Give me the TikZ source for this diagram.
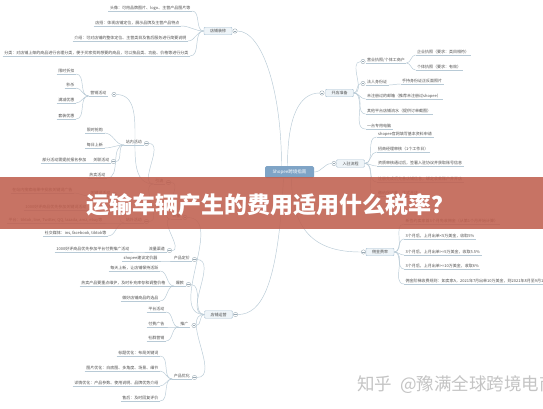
\documentclass[tikz,border=0pt]{standalone}
\usepackage{fontspec}
\setmainfont{Noto Sans CJK SC}
\usepackage{tikz}
\definecolor{txtC}{HTML}{505050}
\definecolor{lineC}{HTML}{B8CAD6}
\definecolor{boxC}{HTML}{A7BFD1}
\definecolor{boxF}{HTML}{EEF4F8}
\definecolor{hubC}{HTML}{7FA4C6}
\definecolor{mkC}{HTML}{9AAAB5}
\definecolor{bannerC}{RGB}{192,96,79}
\definecolor{wmC}{HTML}{C4C4C4}
\newcommand{\smallcn}{\fontsize{4}{4.8}\selectfont}

\begin{document}
\begin{tikzpicture}[
        x=1pt, y=-1pt,
        every node/.style={font=\smallcn, text=txtC},
        lnk/.style={draw=lineC, line width=0.45pt},
        tol/.style={out=180, in=0},
        tor/.style={out=0, in=180},
        leaf/.style={inner xsep=1.5pt, inner ysep=0.8pt, text height=3.5pt, text depth=0.5pt,
            append after command={(\tikzlastnode.south west) edge[lnk] (\tikzlastnode.south east)}},
        leafL/.style={leaf, anchor=south east},
        leafR/.style={leaf, anchor=south west},
        topic/.style={draw=boxC, fill=boxF, rounded corners=1pt, minimum width=28pt, minimum height=7.5pt,
            inner sep=0.5pt, text height=3.5pt, text depth=0.5pt, line width=0.4pt},
        hub/.style={fill=hubC, rounded corners=1.5pt, minimum width=49pt, minimum height=12pt,
            text=white, font=\fontsize{4.5}{5}\selectfont},
        mk/.style={circle, draw=mkC, fill=white, inner sep=0pt, minimum size=4.4pt, line width=0.35pt,
            path picture={\draw[mkC, line width=0.35pt] ([xshift=-1.3pt]path picture bounding box.center) -- ([xshift=1.3pt]path picture bounding box.center);}}
    ]
    \useasboundingbox[fill=white] (0,0) rectangle (543,408);

    % Centre and main topics
    \node[hub] (ctr) at (289.5,172) {Shopee跨境指南};
    \node[topic] (zx) at (218,31) {店铺装修};
    \node[mk] (zxm) at (235,31) {};
    \node[topic] (kd) at (339.5,93) {开店准备};
    \node[mk] (kdm) at (322,93) {};
    \node[topic] (rz) at (350.5,163.5) {入驻流程};
    \node[mk] (rzm) at (334,163.5) {};
    \node[topic] (yj) at (380,252) {佣金费率};
    \node[mk] (yjm) at (363.5,252) {};
    \node[topic] (yy) at (218.5,314.5) {店铺运营};
    \node[mk] (yym) at (235.5,314.5) {};

    \draw[lnk] ([xshift=-8pt]ctr.north) .. controls (281.5,90) and (262,31) .. (zxm);
    \draw[lnk] ([xshift=-2pt]ctr.north) .. controls (287.5,115) and (300,93) .. (kdm);
    \draw[lnk] (ctr.east) to[tor] (rzm);
    \draw[lnk] ([xshift=2pt]ctr.south) .. controls (291.5,240) and (325,252) .. (yjm);
    \draw[lnk] ([xshift=-6pt]ctr.south) .. controls (278,285) and (262,314.5) .. (yym);

    % 店铺装修
    \node[leafL] (zx1) at (192,11) {头像：可用品牌图片、logo、主营产品图片等};
    \node[leafL] (zx2) at (181,26) {店招：体现店铺定位，展示品牌及主营产品特点};
    \node[leafL] (zx3) at (188,41) {介绍：可对店铺的整体定位、主营类目及售后服务进行简要说明};
    \node[leafL] (zx4) at (190,56) {分类：对店铺上架的商品进行合理分类，便于买家找到想要的商品，可以按品类、功能、价格等进行分类};
    \draw[lnk] (zx.west) to[tol] (zx1.south east);
    \draw[lnk] (zx.west) to[tol] (zx2.south east);
    \draw[lnk] (zx.west) to[tol] (zx3.south east);
    \draw[lnk] (zx.west) to[tol] (zx4.south east);

    % 店铺运营: 流量
    \node[leafL] (ll) at (182,219) {流量};
    \node[mk] (llm) at (185,217.5) {};
    \node[leafL] (yl) at (165,184) {引流};
    \node[mk] (ylm) at (168.5,182.5) {};
    \node[leafL] (ql) at (166.5,252) {流量渠道};
    \node[mk] (qlm) at (169.5,250.5) {};
    \node[leafL] (ql1) at (131,252) {1000好评商品优先参加平台付费推广活动};
    \draw[lnk] (ll.south west) to[tol] (ylm);
    \draw[lnk] (ll.south west) to[tol] (qlm);
    \draw[lnk] (ql.south west) to[tol] (ql1.south east);

    % 引流
    \node[leafL] (yx) at (108,96) {营销活动};
    \node[mk] (yxm) at (114,94.5) {};
    \node[leafL] (zn) at (143.5,145) {站内活动};
    \node[mk] (znm) at (146.5,143.5) {};
    \node[leafL] (zw) at (143.5,223) {站外活动};
    \node[mk] (zwm) at (146.5,221.5) {};
    \draw[lnk] (yl.south west) to[tol] (yxm);
    \draw[lnk] (yl.south west) to[tol] (znm);
    \draw[lnk] (yl.south west) to[tol] (zwm);

    \node[leafL] (yx1) at (76,74) {限时折扣};
    \node[leafL] (yx2) at (76,88) {秒杀};
    \node[leafL] (yx3) at (76,103) {满减优惠};
    \node[leafL] (yx4) at (76,119) {套装优惠};
    \draw[lnk] (yx.south west) to[tol] (yx1.south east);
    \draw[lnk] (yx.south west) to[tol] (yx2.south east);
    \draw[lnk] (yx.south west) to[tol] (yx3.south east);
    \draw[lnk] (yx.south west) to[tol] (yx4.south east);

    \node[leafL] (zn1) at (104.5,133) {限时抢购};
    \node[leafL] (zn2) at (104.5,148) {每日上新};
    \node[leafL] (zn3) at (111,163) {关联活动};
    \node[mk] (zn3m) at (113.5,161.5) {};
    \node[leafL] (zn31) at (88,163) {部分活动需提前报名参加};
    \node[leafL] (zn4) at (107,178) {热卖活动};
    \draw[lnk] (zn.south west) to[tol] (zn1.south east);
    \draw[lnk] (zn.south west) to[tol] (zn2.south east);
    \draw[lnk] (zn.south west) to[tol] (zn3m);
    \draw[lnk] (zn.south west) to[tol] (zn4.south east);
    \draw[lnk] (zn3.south west) to[tol] (zn31.south east);

    \node[leafL] (zw1) at (112,196) {关键词活动};
    \node[mk] (zw1m) at (114.5,194.5) {};
    \node[leafL] (zw11) at (74,193) {在站内搜索结果中投放关键词广告};
    \node[leafL] (zw12) at (88,210) {1000好评商品优先参加关键词活动};
    \node[leafL] (zw2) at (104,223) {平台：tiktok, line, Twitter, QQ, lazada, amz, ebay等};
    \node[leafL] (zw3) at (108,236) {社交媒体：ins, facebook, tiktok等};
    \draw[lnk] (zw.south west) to[tol] (zw1m);
    \draw[lnk] (zw.south west) to[tol] (zw2.south east);
    \draw[lnk] (zw.south west) to[tol] (zw3.south east);
    \draw[lnk] (zw1.south west) to[tol] (zw11.south east);
    \draw[lnk] (zw1.south west) to[tol] (zw12.south east);

    % 店铺运营: 定价, 爆款, 推广, 优化
    \node[leafL] (jd) at (191.5,261) {产品定价};
    \node[mk] (jdm) at (194.5,259.5) {};
    \node[leafL] (jd1) at (159,261) {shopee建议定价器};
    \node[leafL] (bk) at (185.5,286) {爆款};
    \node[mk] (bkm) at (188.5,284.5) {};
    \node[leafL] (bk1) at (160,271) {每天上新，让店铺保持活跃};
    \node[leafL] (bk2) at (167,286) {热卖产品要重点维护，及时补充库存和调整价格};
    \node[leafL] (bk3) at (160,301) {做好店铺商品的选品};
    \node[leafL] (tg) at (190,327) {推广};
    \node[mk] (tgm) at (194,325.5) {};
    \node[leafL] (tg1) at (166,312) {平台活动};
    \node[leafL] (tg2) at (166,327) {付费广告};
    \node[leafL] (tg3) at (166,341) {社群营销};
    \node[leafL] (yh) at (191.5,379) {产品优化};
    \node[mk] (yhm) at (194.5,377.5) {};
    \node[leafL] (yh1) at (160,356) {标题优化：布局关键词};
    \node[leafL] (yh2) at (160,371) {图片优化：白底图、多角度、场景、细节};
    \node[leafL] (yh3) at (160,386) {详情优化：产品参数、使用说明、品牌优势介绍};
    \node[leafL] (yh4) at (160,401) {售后：及时回复评价};
    \draw[lnk] (yy.west) to[tol] (llm);
    \draw[lnk] (yy.west) to[tol] (jdm);
    \draw[lnk] (yy.west) to[tol] (bkm);
    \draw[lnk] (yy.west) to[tol] (tgm);
    \draw[lnk] (yy.west) to[tol] (yhm);
    \draw[lnk] (jd.south west) to[tol] (jd1.south east);
    \draw[lnk] (bk.south west) to[tol] (bk1.south east);
    \draw[lnk] (bk.south west) to[tol] (bk2.south east);
    \draw[lnk] (bk.south west) to[tol] (bk3.south east);
    \draw[lnk] (tg.south west) to[tol] (tg1.south east);
    \draw[lnk] (tg.south west) to[tol] (tg2.south east);
    \draw[lnk] (tg.south west) to[tol] (tg3.south east);
    \draw[lnk] (yh.south west) to[tol] (yh1.south east);
    \draw[lnk] (yh.south west) to[tol] (yh2.south east);
    \draw[lnk] (yh.south west) to[tol] (yh3.south east);
    \draw[lnk] (yh.south west) to[tol] (yh4.south east);

    % 开店准备
    \node[mk] (kd1m) at (363,61.5) {};
    \node[leafR] (kd1) at (365.5,63) {营业执照/个体工商户};
    \node[leafR] (kd11) at (415.5,55) {企业执照（要求：类目相符）};
    \node[leafR] (kd12) at (415.5,70) {个体执照（要求：有效）};
    \node[mk] (kd2m) at (363,83.5) {};
    \node[leafR] (kd2) at (365.5,85) {法人身份证};
    \node[leafR] (kd21) at (400.5,84) {手持身份证正反面照片};
    \node[leafR] (kd3) at (365.5,99) {未注册过的邮箱（推荐未注册过shopee）};
    \node[leafR] (kd4) at (365.5,114) {其他平台店铺流水（提供订单截图）};
    \node[leafR] (kd5) at (365.5,129) {一台专用电脑};
    \draw[lnk] (kd.east) to[tor] (kd1m);
    \draw[lnk] (kd.east) to[tor] (kd2m);
    \draw[lnk] (kd.east) to[tor] (kd3.south west);
    \draw[lnk] (kd.east) to[tor] (kd4.south west);
    \draw[lnk] (kd.east) to[tor] (kd5.south west);
    \draw[lnk] (kd1.south east) to[tor] (kd11.south west);
    \draw[lnk] (kd1.south east) to[tor] (kd12.south west);
    \draw[lnk] (kd2.south east) to[tor] (kd21.south west);

    % 入驻流程
    \node[leafR] (rz1) at (376.5,137) {shopee官网填写基本资料申请};
    \node[leafR] (rz2) at (376.5,152) {招商经理审核（1个工作日）};
    \node[leafR] (rz3) at (376.5,166) {资质审核通过后，签署入驻协议并获取账号信息};
    \node[leafR] (rz4) at (376.5,182) {注册完成后完善店铺信息，绑定收款账户并开店};
    \node[leafR] (rz5) at (376.5,196) {缴纳保证金，正式开店};
    \draw[lnk] (rz.east) to[tor] (rz1.south west);
    \draw[lnk] (rz.east) to[tor] (rz2.south west);
    \draw[lnk] (rz.east) to[tor] (rz3.south west);
    \draw[lnk] (rz.east) to[tor] (rz4.south west);
    \draw[lnk] (rz.east) to[tor] (rz5.south west);

    % 佣金费率
    \node[leafR] (yj1) at (404,224) {新签约卖家首3个月免收佣金（从第1个月开始计算）};
    \node[leafR] (yj2) at (404,239) {3个月后，上月出单<5万美金，收取5\%};
    \node[leafR] (yj3) at (404,255) {3个月后，上月出单>=5万美金，收取5.5\%};
    \node[leafR] (yj4) at (404,269) {3个月后，上月出单>=10万美金，收取6\%};
    \node[leafR] (yj5) at (404,284) {佣金阶梯收费规则：如卖家A，2021年7月出单10万美金，则2021年8月至9月10日的佣金按6\%收取};
    \draw[lnk] (yj.east) to[tor] (yj1.south west);
    \draw[lnk] (yj.east) to[tor] (yj2.south west);
    \draw[lnk] (yj.east) to[tor] (yj3.south west);
    \draw[lnk] (yj.east) to[tor] (yj4.south west);
    \draw[lnk] (yj.east) to[tor] (yj5.south west);

    % Banner and watermark
    \fill[bannerC, opacity=0.88] (0,177) rectangle (543,229);
    \node (title) [anchor=base, text=white, font=\fontsize{23}{23}\selectfont\bfseries] at (270.5,213) {运输车辆产生的费用适用什么税率？};
    \node (wm) [anchor=base west, inner sep=0pt, text=wmC, font=\fontsize{17.5}{17.5}\selectfont] at (357,390) {知乎\hspace{0.45em}@豫满全球跨境电商};
\end{tikzpicture}
\end{document}
